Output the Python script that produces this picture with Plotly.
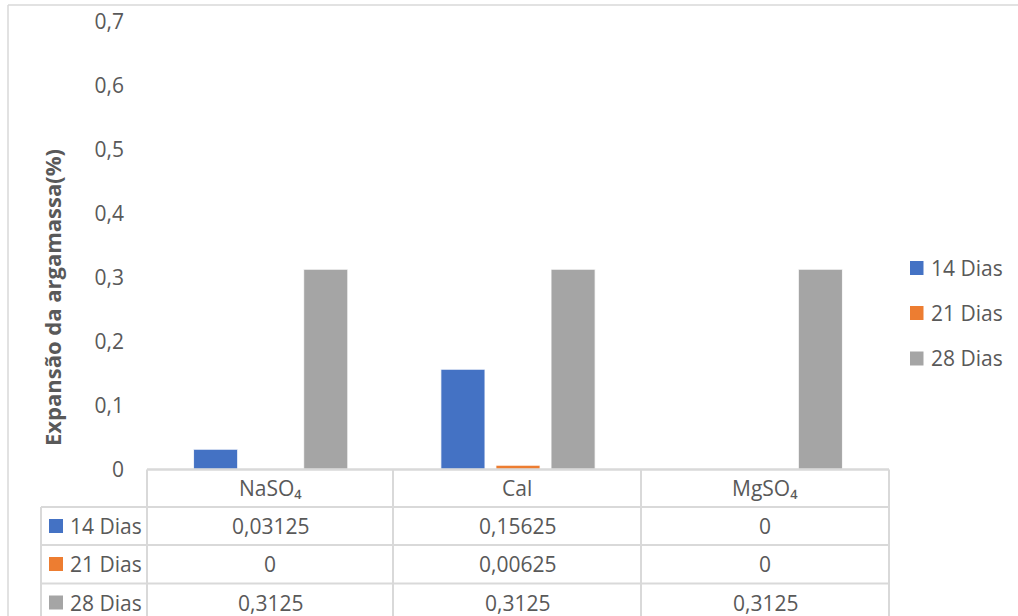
import plotly.graph_objects as go

# Data
categories = ["NaSO₄", "Cal", "MgSO₄"]
series_names = ["14 Dias", "21 Dias", "28 Dias"]
values_14 = [0.03125, 0.15625, 0.0]
values_21 = [0.0, 0.00625, 0.0]
values_28 = [0.3125, 0.3125, 0.3125]
series_colors = ["#4472C4", "#ED7D31", "#A5A5A5"]
y_ticks = [0, 0.1, 0.2, 0.3, 0.4, 0.5, 0.6, 0.7]

W, H = 1018, 616
TXT = "#595959"
GRID = "#d9d9d9"
FONT = "Open Sans"
FS = 21

def px(x):
    return x / W

def py(y):
    return 1 - y / H

# plot area in pixels
PL, PR, PT, PB = 147, 889, 21.3, 469.3

fig = go.Figure()
all_values = [values_14, values_21, values_28]
for name, vals, col in zip(series_names, all_values, series_colors):
    fig.add_trace(go.Bar(
        x=categories, y=vals, name=name,
        marker=dict(color=col, line=dict(color="white", width=0.8)),
        showlegend=False, hoverinfo="x+y+name",
    ))

shapes = []
annotations = []

# outer chart border
shapes.append(dict(type="line", xref="paper", yref="paper",
                   x0=px(8), x1=px(W + 5), y0=py(5), y1=py(5),
                   line=dict(color=GRID, width=1.5)))
shapes.append(dict(type="line", xref="paper", yref="paper",
                   x0=px(8), x1=px(8), y0=py(5), y1=py(H + 5),
                   line=dict(color=GRID, width=1.5)))

# data table grid
col_edges = [147, 393, 641, 889]
row_edges = [469.5, 507, 545, 583.5]
# top line of header row (also the category axis line)
shapes.append(dict(type="line", xref="paper", yref="paper",
                   x0=px(147), x1=px(889), y0=py(469.5), y1=py(469.5),
                   line=dict(color=GRID, width=2.5)))
for ry in row_edges[1:]:
    shapes.append(dict(type="line", xref="paper", yref="paper",
                       x0=px(41), x1=px(889), y0=py(ry), y1=py(ry),
                       line=dict(color=GRID, width=2)))
for cx in col_edges:
    shapes.append(dict(type="line", xref="paper", yref="paper",
                       x0=px(cx), x1=px(cx), y0=py(469.5), y1=py(H + 5),
                       line=dict(color=GRID, width=2)))
shapes.append(dict(type="line", xref="paper", yref="paper",
                   x0=px(41), x1=px(41), y0=py(507), y1=py(H + 5),
                   line=dict(color=GRID, width=2)))

# header cells
header_cy = 488
for i, cat in enumerate(categories):
    cx = (col_edges[i] + col_edges[i + 1]) / 2
    annotations.append(dict(xref="paper", yref="paper", x=px(cx), y=py(header_cy),
                            text=cat, showarrow=False,
                            font=dict(family=FONT, size=FS, color=TXT),
                            xanchor="center", yanchor="middle"))

# body rows
row_cys = [526, 564, 602.5]
for r, (name, vals, col) in enumerate(zip(series_names, all_values, series_colors)):
    cy = row_cys[r]
    shapes.append(dict(type="rect", xref="paper", yref="paper",
                       x0=px(49), x1=px(63), y0=py(cy - 7), y1=py(cy + 7),
                       fillcolor=col, line=dict(width=0)))
    annotations.append(dict(xref="paper", yref="paper", x=px(68), y=py(cy),
                            text=name, showarrow=False,
                            font=dict(family=FONT, size=FS, color=TXT),
                            xanchor="left", yanchor="middle"))
    for i, v in enumerate(vals):
        cx = (col_edges[i] + col_edges[i + 1]) / 2
        annotations.append(dict(xref="paper", yref="paper", x=px(cx), y=py(cy),
                                text=f"{v:g}".replace(".", ","), showarrow=False,
                                font=dict(family=FONT, size=FS, color=TXT),
                                xanchor="center", yanchor="middle"))

# legend on the right
legend_cys = [268, 313, 358.5]
for name, col, cy in zip(series_names, series_colors, legend_cys):
    shapes.append(dict(type="rect", xref="paper", yref="paper",
                       x0=px(910), x1=px(923.5), y0=py(cy - 7), y1=py(cy + 7),
                       fillcolor=col, line=dict(width=0)))
    annotations.append(dict(xref="paper", yref="paper", x=px(929), y=py(cy),
                            text=name, showarrow=False,
                            font=dict(family=FONT, size=FS, color=TXT),
                            xanchor="left", yanchor="middle"))

# y-axis title
annotations.append(dict(xref="paper", yref="paper", x=px(52), y=py(298),
                        text="<b>Expansão da argamassa(%)</b>", showarrow=False,
                        textangle=-90,
                        font=dict(family=FONT, size=22, color=TXT),
                        xanchor="center", yanchor="middle"))

fig.update_layout(
    width=W, height=H,
    margin=dict(l=0, r=0, t=0, b=0, pad=0, autoexpand=False),
    paper_bgcolor="white", plot_bgcolor="white",
    separators=",.",
    barmode="group", bargap=0.332, bargroupgap=0.2,
    font=dict(family=FONT, size=FS, color=TXT),
    xaxis=dict(domain=[px(PL), px(PR)], showticklabels=False, showline=False,
               showgrid=False, zeroline=False, ticks="", automargin=False),
    yaxis=dict(domain=[py(PB), py(PT)], range=[0, 0.7], tickvals=y_ticks,
               showline=False, showgrid=False, zeroline=False, ticks="",
               ticklabelstandoff=22, automargin=False,
               tickfont=dict(family=FONT, size=FS, color=TXT)),
    shapes=shapes, annotations=annotations,
)

fig.write_html("out.html")
